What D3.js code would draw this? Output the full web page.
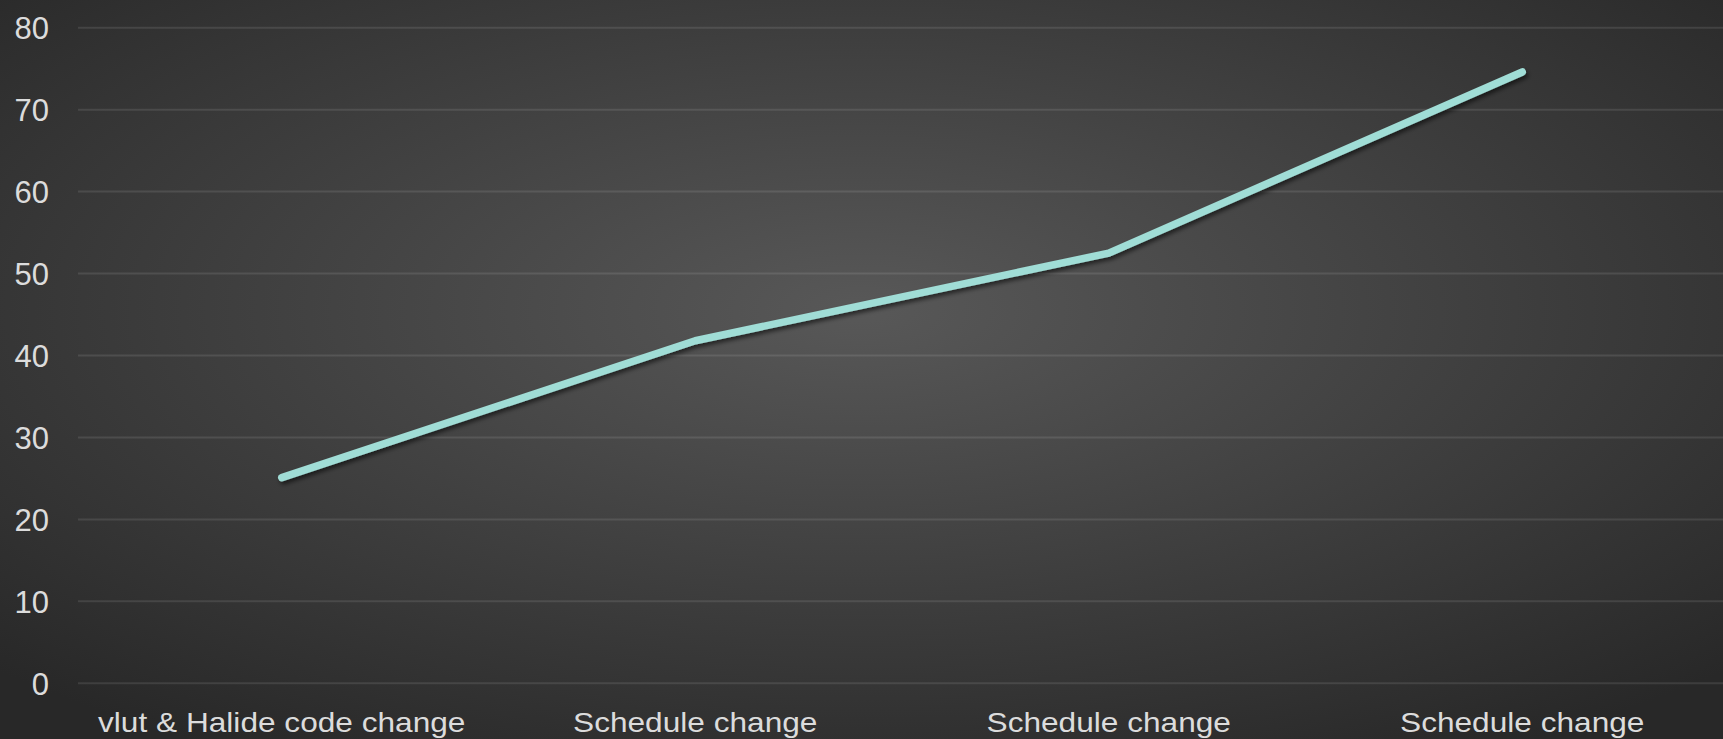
<!DOCTYPE html>
<html>
<head>
<meta charset="utf-8">
<script src="https://cdn.jsdelivr.net/npm/d3@7"></script>
<style>
  html, body { margin: 0; padding: 0; background: #2b2b2b; overflow: hidden; }
  svg { display: block; }
  text { font-family: "Liberation Sans", Arial, sans-serif; fill: #dcdcdc; }
</style>
</head>
<body>
<svg id="chart" width="1723" height="739"></svg>
<script>
// Chart data
const categories = ["vlut & Halide code change", "Schedule change", "Schedule change", "Schedule change"];
const values = [25.1, 41.8, 52.5, 74.6];
const yTicks = [0, 10, 20, 30, 40, 50, 60, 70, 80];

const W = 1723, H = 739;
const svg = d3.select("#chart");
const defs = svg.append("defs");

// Radial background glow, lighter towards the centre
const grad = defs.append("radialGradient")
  .attr("id", "bg")
  .attr("cx", 0.5).attr("cy", 0.42).attr("r", 0.7)
  .attr("fx", 0.5).attr("fy", 0.42);
grad.append("stop").attr("offset", "0%").attr("stop-color", "#585858");
grad.append("stop").attr("offset", "100%").attr("stop-color", "#282828");
svg.append("rect").attr("width", W).attr("height", H).attr("fill", "url(#bg)");

// Soft shadow under the line
const shadow = defs.append("filter").attr("id", "shadow")
  .attr("x", "-10%").attr("y", "-10%").attr("width", "120%").attr("height", "130%");
shadow.append("feDropShadow")
  .attr("dx", 2).attr("dy", 3).attr("stdDeviation", 2)
  .attr("flood-color", "#000").attr("flood-opacity", 0.55);

const x = d3.scaleBand().domain(d3.range(categories.length)).range([75, 1729]);
const y = d3.scaleLinear().domain([0, 80]).range([683.3, 27.7]);

const stretch = 1.13;

// Horizontal gridlines
svg.append("g").selectAll("line").data(yTicks).join("line")
  .attr("x1", 78).attr("x2", W)
  .attr("y1", d => y(d)).attr("y2", d => y(d))
  .attr("stroke", "rgba(255,255,255,0.1)")
  .attr("stroke-width", 2);

// Y axis labels
svg.append("g").selectAll("text").data(yTicks).join("text")
  .attr("transform", d => `translate(49,${y(d)}) scale(0.97,1)`)
  .attr("text-anchor", "end")
  .attr("dy", "0.36em")
  .attr("font-size", 32)
  .text(d => d);

// Category labels
svg.append("g").selectAll("text").data(categories).join("text")
  .attr("transform", (d, i) => `translate(${x(i) + x.bandwidth() / 2},732) scale(${stretch},1)`)
  .attr("text-anchor", "middle")
  .attr("font-size", 28)
  .text(d => d);

// Data line
const line = d3.line()
  .x((d, i) => x(i) + x.bandwidth() / 2)
  .y(d => y(d));

svg.append("path")
  .datum(values)
  .attr("d", line)
  .attr("fill", "none")
  .attr("stroke", "#a0ddd6")
  .attr("stroke-width", 7.5)
  .attr("stroke-linecap", "round")
  .attr("stroke-linejoin", "round")
  .attr("filter", "url(#shadow)");
</script>
</body>
</html>
